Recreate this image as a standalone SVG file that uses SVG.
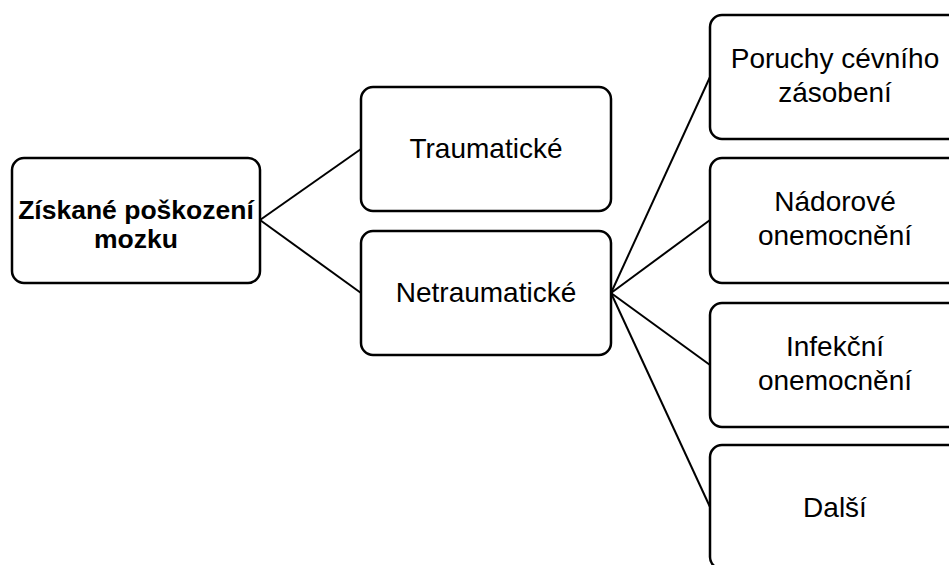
<svg xmlns="http://www.w3.org/2000/svg" width="949" height="565" viewBox="0 0 949 565">
<style>
.box{fill:#fff;stroke:#000;stroke-width:2.5}
.t{font-family:"Liberation Sans",Arial,sans-serif;font-size:28px;fill:#000;text-anchor:middle}
.b{font-weight:bold;font-size:26.5px}
.c{stroke:#000;stroke-width:2;fill:none}
</style>
<rect width="949" height="565" fill="#fff"/>
<g id="connectors">
<line class="c" x1="260" y1="220" x2="361" y2="149"/>
<line class="c" x1="260" y1="220" x2="361" y2="293"/>
<line class="c" x1="611" y1="293" x2="710" y2="77"/>
<line class="c" x1="611" y1="293" x2="710" y2="220"/>
<line class="c" x1="611" y1="293" x2="710" y2="365"/>
<line class="c" x1="611" y1="293" x2="710" y2="507"/>
</g>
<g id="root">
<rect class="box" x="12" y="158" width="248" height="125" rx="12"/>
<text class="t b" x="136" y="219">Získané poškození</text>
<text class="t b" x="136" y="248">mozku</text>
</g>
<g id="traumaticke">
<rect class="box" x="361" y="87" width="250" height="124" rx="12"/>
<text class="t" x="486" y="158">Traumatické</text>
</g>
<g id="netraumaticke">
<rect class="box" x="361" y="231" width="250" height="124" rx="12"/>
<text class="t" x="486" y="302">Netraumatické</text>
</g>
<g id="cevni">
<rect class="box" x="710" y="15" width="250" height="124" rx="12"/>
<text class="t" x="835" y="68">Poruchy cévního</text>
<text class="t" x="835" y="102">zásobení</text>
</g>
<g id="nadorove">
<rect class="box" x="710" y="158" width="250" height="125" rx="12"/>
<text class="t" x="835" y="211">Nádorové</text>
<text class="t" x="835" y="245">onemocnění</text>
</g>
<g id="infekcni">
<rect class="box" x="710" y="303" width="250" height="124" rx="12"/>
<text class="t" x="835" y="356">Infekční</text>
<text class="t" x="835" y="390">onemocnění</text>
</g>
<g id="dalsi">
<rect class="box" x="710" y="445" width="250" height="124" rx="12"/>
<text class="t" x="835" y="517">Další</text>
</g>
</svg>
